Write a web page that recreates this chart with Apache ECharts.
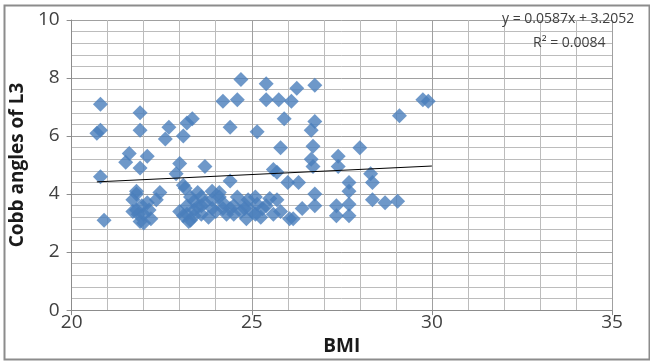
<!DOCTYPE html>
<html>
<head>
<meta charset="utf-8">
<script src="https://cdn.jsdelivr.net/npm/echarts@6/dist/echarts.min.js"></script>
<style>
	html, body { margin: 0; padding: 0; background: #fff; }
	#chart { width: 650px; height: 361px; }
</style>
</head>
<body>
<div id="chart"></div>
<script>
// BMI vs Cobb angle of L3
let bmiValues = [
	20.7, 20.8, 20.8, 20.8, 20.9,
	21.9, 21.9, 21.6, 21.5, 22.1, 21.9, 21.8, 21.7, 22.45, 22.35, 21.8, 22.0, 21.9, 22.15, 22.2, 21.7, 22.0, 21.85, 21.8, 22.1, 21.95,
	22.7, 22.6, 23.2, 23.1, 23.35, 23.0, 22.9, 23.1, 23.2, 23.15, 23.5, 23.1, 23.25, 23.4, 23.3, 23.2, 23.4, 23.0, 23.3, 23.4,
	23.7, 23.7, 23.9, 24.1, 24.2, 24.4, 24.4, 24.2, 24.6, 24.4, 23.6, 23.8, 24.0, 23.6, 24.3, 23.9, 24.1, 23.5, 24.5, 23.6, 23.9, 24.2, 24.5, 24.6,
	24.7, 25.4, 25.4, 25.15, 24.8, 24.85, 25.15, 25.25, 25.5, 25.0, 24.7, 25.3, 25.1, 24.9, 24.8, 25.1, 25.4, 25.6,
	25.75, 26.1, 26.25, 25.9, 25.8, 25.6, 25.7, 26.0, 26.3, 25.7, 25.8, 26.05, 26.4, 26.15,
	26.75, 26.75, 26.65, 26.7, 26.65, 26.7, 26.75, 26.75, 27.4, 27.4, 27.35, 27.35,
	27.7, 27.7, 27.7, 27.7, 28.0, 28.3, 28.35, 28.35, 28.7, 29.05, 29.1, 29.9, 29.75
];
let cobbValues = [
	6.1, 6.2, 7.1, 4.6, 3.1,
	6.8, 6.2, 5.4, 5.1, 5.3, 4.9, 4.1, 3.8, 4.05, 3.8, 3.45, 3.3, 3.05, 3.45, 3.15, 3.4, 3.0, 3.3, 4.0, 3.7, 3.6,
	6.3, 5.9, 6.45, 6.0, 6.6, 5.05, 4.7, 4.3, 3.3, 4.2, 4.05, 3.25, 3.05, 3.45, 3.1, 3.6, 3.75, 3.4, 3.9, 3.25,
	4.95, 3.7, 3.5, 4.05, 3.7, 4.45, 3.5, 7.2, 7.25, 6.3, 3.9, 3.2, 3.4, 3.3, 3.3, 4.1, 3.9, 3.55, 3.6, 3.6, 3.8, 3.5, 3.3, 3.9,
	7.95, 7.8, 7.25, 6.15, 3.65, 3.15, 3.65, 3.2, 3.85, 3.4, 3.4, 3.5, 3.9, 3.8, 3.5, 3.3, 3.6, 3.3,
	7.25, 7.2, 7.65, 6.6, 5.6, 4.85, 4.75, 4.4, 4.4, 3.8, 3.4, 3.15, 3.5, 3.15,
	7.75, 6.5, 6.2, 5.65, 5.2, 4.95, 4.0, 3.6, 5.3, 4.95, 3.6, 3.25,
	4.4, 4.1, 3.65, 3.25, 5.6, 4.7, 4.4, 3.8, 3.7, 3.75, 6.7, 7.2, 7.25
];

// linear trendline as printed on the chart
let trendSlope = 0.0587;
let trendIntercept = 3.2052;
let trendRange = [20.7, 30.0];
let equationText = 'y = 0.0587x + 3.2052';
let rSquaredText = 'R\u00B2 = 0.0084';

let points = [];
for (let i = 0; i < bmiValues.length; i++) {
	points.push([bmiValues[i], cobbValues[i]]);
}
let trendPoints = trendRange.map(function (x) {
	return [x, trendSlope * x + trendIntercept];
});

let chart = echarts.init(document.getElementById('chart'));
let labelFont = { fontFamily: 'Open Sans', fontSize: 19, color: '#404040' };

chart.setOption({
	animation: false,
	grid: { left: 66, right: 38, top: 20, bottom: 47 },
	xAxis: {
		type: 'value', min: 20, max: 35, interval: 5,
		name: 'BMI', nameLocation: 'middle', nameGap: 26,
		nameTextStyle: { fontFamily: 'Open Sans', fontSize: 19, fontWeight: 'bold', color: '#1a1a1a' },
		axisLine: { show: true, lineStyle: { color: '#8c8c8c' } },
		axisTick: { show: true, length: 5, lineStyle: { color: '#8c8c8c' } },
		axisLabel: Object.assign({ margin: 3 }, labelFont),
		splitLine: { show: true, lineStyle: { color: '#a0a0a0' } },
		minorTick: { show: false, splitNumber: 5 },
		minorSplitLine: { show: true, lineStyle: { color: '#bcbcbc' } }
	},
	yAxis: {
		type: 'value', min: 0, max: 10, interval: 2,
		name: 'Cobb angles of L3', nameLocation: 'middle', nameGap: 40,
		nameTextStyle: { fontFamily: 'Open Sans', fontSize: 19, fontWeight: 'bold', color: '#1a1a1a' },
		axisLine: { show: true, lineStyle: { color: '#8c8c8c' } },
		axisTick: { show: true, length: 5, lineStyle: { color: '#8c8c8c' } },
		axisLabel: Object.assign({ margin: 12 }, labelFont),
		splitLine: { show: true, lineStyle: { color: '#a0a0a0' } },
		minorTick: { show: false, splitNumber: 5 },
		minorSplitLine: { show: true, lineStyle: { color: '#bcbcbc' } }
	},
	series: [
		{
			type: 'scatter',
			data: points,
			symbol: 'diamond',
			symbolSize: 15,
			itemStyle: { color: '#4a7ebb' }
		},
		{
			type: 'line',
			data: trendPoints,
			symbol: 'none',
			lineStyle: { color: '#000', width: 1 }
		}
	],
	graphic: [
		{
			type: 'rect', left: 2, top: 3, z: 100,
			shape: { width: 645, height: 354 },
			style: { fill: 'none', stroke: '#8c8c8c', lineWidth: 2 }
		},
		{
			type: 'text', left: 502, top: 12, z: 100,
			style: { text: equationText, fontFamily: 'Open Sans', fontSize: 14, fill: '#404040' }
		},
		{
			type: 'text', left: 533, top: 36, z: 100,
			style: { text: rSquaredText, fontFamily: 'Open Sans', fontSize: 14, fill: '#404040' }
		}
	]
});
</script>
</body>
</html>
